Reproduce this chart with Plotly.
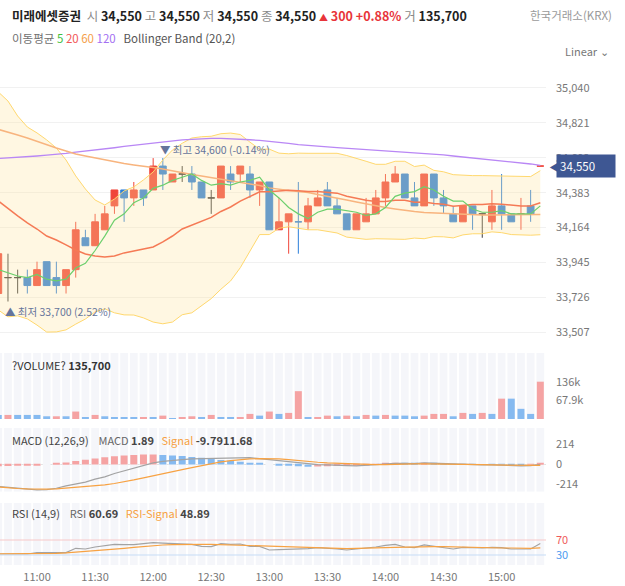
import pandas as pd
import plotly.graph_objects as go

# ---------------- data (5-minute bars, 10:40 .. 15:20) ----------------
times = pd.date_range("2025-01-02 10:40", periods=57, freq="5min")

opens = [33750, 33850, 33850, 33850, 33800, 33950, 33850, 33800, 33900, 34100,
         34050, 34150, 34300, 34400, 34350, 34400, 34400, 34550, 34450, 34500,
         34500, 34450, 34350, 34350, 34500, 34500, 34500, 34400, 34450, 34150,
         34200, 34200, 34200, 34300, 34400, 34300, 34250, 34150, 34200, 34250,
         34350, 34450, 34500, 34350, 34300, 34500, 34350, 34250, 34200, 34300,
         34250, 34200, 34300, 34250, 34250, 34300, 34550]
highs = [34000, 34000, 33900, 33900, 33950, 33950, 33950, 33900, 34200, 34150,
         34250, 34300, 34400, 34400, 34450, 34400, 34600, 34600, 34500, 34550,
         34550, 34450, 34400, 34550, 34550, 34550, 34550, 34450, 34450, 34350,
         34250, 34450, 34350, 34400, 34450, 34350, 34250, 34250, 34350, 34400,
         34500, 34550, 34500, 34450, 34500, 34500, 34400, 34300, 34300, 34300,
         34250, 34400, 34500, 34250, 34350, 34400, 34550]
lows = [33750, 33700, 33750, 33750, 33800, 33800, 33750, 33750, 33850, 34050,
        34050, 34150, 34250, 34200, 34300, 34300, 34400, 34400, 34450, 34450,
        34400, 34350, 34250, 34350, 34400, 34450, 34350, 34300, 34150, 34150,
        34000, 34000, 34150, 34300, 34300, 34250, 34150, 34150, 34200, 34250,
        34300, 34450, 34350, 34300, 34300, 34300, 34250, 34200, 34200, 34150,
        34100, 34150, 34150, 34200, 34150, 34200, 34550]
closes = [34000, 33850, 33850, 33800, 33900, 33800, 33800, 33900, 34150, 34050,
          34200, 34250, 34400, 34350, 34400, 34350, 34550, 34500, 34500, 34500,
          34450, 34350, 34350, 34550, 34450, 34550, 34400, 34450, 34150, 34200,
          34250, 34200, 34300, 34350, 34300, 34250, 34150, 34250, 34250, 34350,
          34450, 34500, 34350, 34300, 34500, 34350, 34300, 34200, 34300, 34250,
          34250, 34300, 34250, 34200, 34250, 34250, 34550]
# direction of flat (open == close) bars as shown by the chart
flat_bar_direction = {"13:15": -1, "15:10": 1, "15:20": 1}

ma5 = [33900, 33880, 33860, 33850, 33870, 33840, 33830, 33840, 33910, 33940,
       34020, 34110, 34210, 34250, 34320, 34350, 34410, 34430, 34460, 34480,
       34500, 34460, 34430, 34440, 34430, 34450, 34460, 34480, 34400, 34350,
       34290, 34250, 34220, 34260, 34280, 34280, 34270, 34260, 34240, 34250,
       34290, 34360, 34380, 34390, 34420, 34400, 34360, 34330, 34330, 34280,
       34260, 34260, 34270, 34250, 34250, 34250, 34300]
ma20 = [34331, 34281, 34237, 34193, 34155, 34111, 34086, 34055, 34023, 33998,
        33986, 33980, 33986, 34005, 34017, 34030, 34042, 34074, 34111, 34155,
        34178, 34203, 34228, 34265, 34293, 34330, 34360, 34388, 34388, 34395,
        34398, 34395, 34390, 34390, 34385, 34380, 34360, 34348, 34335, 34328,
        34328, 34335, 34335, 34323, 34325, 34315, 34310, 34298, 34305, 34308,
        34308, 34313, 34310, 34303, 34300, 34300, 34320]
ma60 = [34780, 34764, 34745, 34726, 34704, 34682, 34663, 34645, 34626, 34613,
        34601, 34588, 34579, 34566, 34557, 34551, 34541, 34532, 34519, 34507,
        34497, 34488, 34478, 34469, 34460, 34450, 34441, 34428, 34413, 34403,
        34397, 34391, 34384, 34372, 34359, 34350, 34337, 34325, 34312, 34300,
        34290, 34281, 34271, 34265, 34259, 34256, 34252, 34249, 34246, 34243,
        34243, 34243, 34243, 34243, 34243, 34243, 34246]
ma120 = [34598, 34601, 34605, 34609, 34613, 34618, 34622, 34629, 34637, 34643,
         34650, 34657, 34665, 34673, 34680, 34689, 34695, 34701, 34707, 34714,
         34718, 34722, 34724, 34724, 34722, 34720, 34715, 34711, 34706, 34698,
         34692, 34685, 34679, 34674, 34670, 34666, 34662, 34658, 34655, 34651,
         34647, 34643, 34638, 34634, 34629, 34624, 34620, 34613, 34607, 34601,
         34594, 34588, 34582, 34576, 34569, 34563, 34554]
bb_upper = [35015, 34958, 34864, 34795, 34758, 34714, 34663, 34588, 34488, 34406,
            34337, 34306, 34343, 34394, 34419, 34463, 34513, 34588, 34651, 34693,
            34726, 34734, 34737, 34753, 34757, 34748, 34700, 34656, 34656, 34631,
            34627, 34631, 34630, 34630, 34628, 34630, 34616, 34600, 34580, 34561,
            34561, 34580, 34580, 34547, 34556, 34523, 34514, 34496, 34492, 34490,
            34490, 34488, 34488, 34486, 34484, 34484, 34521]
bb_lower = [33647, 33604, 33610, 33591, 33552, 33508, 33509, 33522, 33558, 33590,
            33635, 33654, 33629, 33616, 33615, 33597, 33571, 33560, 33571, 33617,
            33629, 33671, 33718, 33777, 33829, 33912, 34020, 34120, 34120, 34159,
            34169, 34159, 34150, 34150, 34142, 34130, 34104, 34096, 34090, 34094,
            34094, 34090, 34090, 34098, 34094, 34107, 34106, 34099, 34118, 34125,
            34125, 34137, 34132, 34120, 34116, 34116, 34119]

volumes = [14800, 14800, 14800, 14800, 14800, 9900, 9900, 9900, 27100, 3700,
           14800, 9900, 7400, 6200, 6200, 6200, 6200, 12300, 2500, 6200,
           9900, 6200, 14800, 6200, 6200, 6200, 18500, 12300, 27100, 18500,
           22200, 101200, 6200, 6200, 12300, 9900, 12300, 9900, 14800, 12300,
           14800, 12300, 12300, 9900, 12300, 18500, 18500, 9900, 22200, 18500,
           22200, 18500, 74000, 74000, 37000, 18500, 135700]
volume_dir = list("DUDDDDUDUD" "UDDDDUDUDU" "UDUDDUUDUD" "UUDUUDUDUD" "UDDDUUUDUD" "UDUDDDU")

macd = [-235, -242, -253, -263, -270, -267, -253, -228, -207, -189,
        -157, -132, -97, -69, -44, -16, 16, 33, 44, 51,
        58, 61, 65, 68, 72, 75, 72, 61, 51, 37,
        26, 16, 5, -2, -5, -5, -12, -16, -9, 2,
        9, 12, 12, 9, 16, 12, 9, 2, 2, -2,
        -5, -5, -9, -12, -16, -12, 1.89]
macd_signal = [-239, -249, -256, -260, -263, -263, -260, -253, -246, -239,
               -228, -218, -203, -186, -165, -143, -119, -97, -76, -55,
               -34, -12, 9, 26, 40, 51, 58, 61, 61, 58,
               51, 40, 30, 23, 16, 12, 5, 2, -2, -2,
               -2, 2, 5, 5, 5, 5, 5, 5, 2, 2,
               -2, -5, -5, -9, -9, -9, -9.79]
macd_hist = [-20, -18, -15, -10, -4, 0, 8, 20, 35, 50,
             62, 75, 86, 95, 100, 104, 106, 100, 95, 88,
             80, 72, 60, 48, 38, 28, 18, 8, 0, -8,
             -14, -20, -24, -22, -20, -18, -16, -12, -6, 4,
             10, 12, 10, 8, 9, 8, 6, 3, 2, 1,
             0, -2, -3, -4, -6, -3, 11.68]

rsi = [32.7, 32.7, 32.7, 32.7, 36.3, 36.3, 34.5, 36.3, 47.8, 46.0,
       51.3, 54.0, 58.4, 57.5, 57.5, 60.2, 62.8, 61.9, 61.1, 61.1,
       58.4, 53.1, 52.2, 60.2, 58.4, 59.3, 53.1, 53.1, 43.3, 44.2,
       45.2, 45.2, 46.9, 49.6, 48.7, 46.0, 43.3, 46.0, 47.8, 51.3,
       55.8, 58.4, 51.3, 49.6, 56.7, 53.1, 49.6, 46.0, 50.4, 48.7,
       48.7, 50.4, 49.6, 46.0, 46.0, 46.0, 60.69]
rsi_signal = [32.7, 32.7, 32.7, 32.7, 32.7, 33.6, 34.5, 35.4, 37.2, 38.9,
              41.6, 43.3, 46.0, 47.8, 50.4, 53.1, 54.9, 56.7, 57.5, 58.4,
              58.4, 58.4, 58.4, 57.5, 57.5, 56.7, 56.7, 55.8, 54.0, 53.1,
              52.2, 51.3, 50.4, 49.6, 48.7, 47.8, 46.9, 47.8, 47.8, 48.7,
              49.6, 50.4, 51.3, 51.3, 52.2, 52.2, 52.2, 51.3, 50.4, 50.4,
              49.6, 49.6, 48.7, 48.7, 47.8, 47.8, 48.89]

price_ticks = [33507, 33726, 33945, 34164, 34383, 34602, 34821, 35040]
volume_ticks = [67850, 135700]
volume_ticktext = ["67.9k", "136k"]
macd_ticks = [-214, 0, 214]
macd_ticktext = ["-214", "0", "214"]
rsi_levels = [30, 70]

stock_name = "미래에셋증권"
exchange = "한국거래소(KRX)"

# ---------------- style / layout constants ----------------
FONT = "Noto Sans CJK KR, Noto Sans, sans-serif"
RED = "#f0453a"
BLUE = "#2b7fda"
DOJI = "#3b3b3b"
VOL_UP, VOL_DN = "#f5a3a3", "#86baf0"
STRIPE = "#f5f6fa"
W, H = 625, 586
XD = 546 / W
def dom(top_px, bot_px):
    return [1 - bot_px / H, 1 - top_px / H]
MAIN_RANGE = [33427, 35203]
VOL_RANGE = [0, 240000]
MACD_RANGE = [-290, 390]
RSI_RANGE = [3.3, 169.5]
X_RANGE = ["2025-01-02 10:40:53", "2025-01-02 15:22:56"]
BAR_MS = 5 * 60 * 1000

fig = go.Figure()

# Bollinger band
fig.add_trace(go.Scatter(x=times, y=bb_lower, mode="lines", line=dict(color="#ffd86e", width=1),
                         hoverinfo="skip", showlegend=False, xaxis="x", yaxis="y"))
fig.add_trace(go.Scatter(x=times, y=bb_upper, mode="lines", line=dict(color="#ffd86e", width=1),
                         fill="tonexty", fillcolor="rgba(255,230,160,0.30)",
                         hoverinfo="skip", showlegend=False, xaxis="x", yaxis="y"))

# candles grouped by colour
groups = {"up": [], "down": [], "flat": []}
for i, t in enumerate(times):
    o, c = opens[i], closes[i]
    if c > o:
        groups["up"].append(i)
    elif c < o:
        groups["down"].append(i)
    else:
        d = flat_bar_direction.get(t.strftime("%H:%M"), 0)
        groups["up" if d > 0 else "down" if d < 0 else "flat"].append(i)
for key, col in (("up", RED), ("down", BLUE), ("flat", DOJI)):
    idx = groups[key]
    style = dict(line=dict(color=col, width=1), fillcolor=col)
    fig.add_trace(go.Candlestick(
        x=[times[i] for i in idx], open=[opens[i] for i in idx], high=[highs[i] for i in idx],
        low=[lows[i] for i in idx], close=[closes[i] for i in idx],
        increasing=style, decreasing=style, whiskerwidth=0,
        hoverinfo="skip", showlegend=False, xaxis="x", yaxis="y"))

# moving averages
for arr, col, wd in ((ma120, "#b987f5", 1.3), (ma60, "#f8b47e", 1.5),
                     (ma20, "#f57a55", 1.5), (ma5, "#6ccf6c", 1.2)):
    fig.add_trace(go.Scatter(x=times, y=arr, mode="lines", line=dict(color=col, width=wd),
                             hoverinfo="skip", showlegend=False, xaxis="x", yaxis="y"))

# background stripes of the lower panes
for ax, rng in (("y2", VOL_RANGE), ("y3", MACD_RANGE), ("y4", RSI_RANGE)):
    fig.add_trace(go.Bar(x=times, y=[rng[1] - rng[0]] * len(times), base=rng[0],
                         width=BAR_MS * 0.8, marker=dict(color=STRIPE, line=dict(width=0)),
                         hoverinfo="skip", showlegend=False, xaxis="x", yaxis=ax))

# volume
fig.add_trace(go.Bar(x=times, y=volumes, width=BAR_MS * 0.72,
                     marker=dict(color=[VOL_UP if d == "U" else VOL_DN for d in volume_dir],
                                 line=dict(width=0)),
                     hoverinfo="skip", showlegend=False, xaxis="x", yaxis="y2"))

# MACD
hist_cols = [VOL_UP if (i == 0 or macd_hist[i] >= macd_hist[i - 1]) else VOL_DN
             for i in range(len(macd_hist))]
fig.add_trace(go.Bar(x=times, y=macd_hist, width=BAR_MS * 0.72,
                     marker=dict(color=hist_cols, line=dict(width=0)),
                     hoverinfo="skip", showlegend=False, xaxis="x", yaxis="y3"))
fig.add_trace(go.Scatter(x=times, y=macd, mode="lines", line=dict(color="#a3a3a3", width=1.2),
                         hoverinfo="skip", showlegend=False, xaxis="x", yaxis="y3"))
fig.add_trace(go.Scatter(x=times, y=macd_signal, mode="lines", line=dict(color="#f7a243", width=1.2),
                         hoverinfo="skip", showlegend=False, xaxis="x", yaxis="y3"))

# RSI
fig.add_trace(go.Scatter(x=times, y=rsi, mode="lines", line=dict(color="#a3a3a3", width=1.2),
                         hoverinfo="skip", showlegend=False, xaxis="x", yaxis="y4"))
fig.add_trace(go.Scatter(x=times, y=rsi_signal, mode="lines", line=dict(color="#f7a243", width=1.2),
                         hoverinfo="skip", showlegend=False, xaxis="x", yaxis="y4"))
for lvl, col in zip(rsi_levels, ("#c6dcf6", "#f7c8c8")):
    fig.add_shape(type="line", xref="x domain", x0=0, x1=1, yref="y4", y0=lvl, y1=lvl,
                  line=dict(color=col, width=1))

tickfont = dict(size=11, color="#777777", family=FONT)
axis_common = dict(anchor="x", side="right", showline=False, ticks="", fixedrange=True,
                   tickfont=tickfont, ticklabelstandoff=9)
fig.update_layout(
    width=W, height=H, margin=dict(l=0, r=0, t=0, b=0),
    paper_bgcolor="white", plot_bgcolor="white", template="plotly_white",
    font=dict(family=FONT, color="#333333"),
    showlegend=False, hovermode=False, barmode="overlay", boxgap=0.3, boxgroupgap=0,
    xaxis=dict(domain=[0, XD], anchor="y4", type="date", range=X_RANGE,
               tickformat="%H:%M", dtick=30 * 60 * 1000, tick0="2025-01-02 11:00",
               showgrid=False, zeroline=False, showline=False, ticks="",
               tickfont=tickfont, ticklabelstandoff=4, rangeslider=dict(visible=False),
               fixedrange=True),
    yaxis=dict(domain=dom(62, 345), range=MAIN_RANGE, tickvals=price_ticks, tickformat=",d",
               showgrid=True, gridcolor="#f1f1f1", zeroline=False, **axis_common),
    yaxis2=dict(domain=dom(353, 419), range=VOL_RANGE, tickvals=volume_ticks,
                ticktext=volume_ticktext, showgrid=False, zeroline=False, **axis_common),
    yaxis3=dict(domain=dom(427.7, 491.7), range=MACD_RANGE, tickvals=macd_ticks,
                ticktext=macd_ticktext,
                showgrid=False, zeroline=True, zerolinecolor="#e2e2e2", zerolinewidth=1,
                **axis_common),
    yaxis4=dict(domain=dom(502.7, 565), range=RSI_RANGE, tickvals=rsi_levels,
                ticktext=["<span style='color:#4f9bef'>30</span>",
                          "<span style='color:#ef5b5b'>70</span>"],
                showgrid=False, zeroline=False, **axis_common),
)

# ---------------- texts ----------------
def py(px):
    return 1 - px / H

last = closes[-1]
chg = closes[-1] - closes[-2]
pct = chg / closes[-2] * 100
g = "<span style='color:#8a8a8a'>{}</span>"
header = (f"<b>{stock_name}</b>&nbsp;&nbsp;"
          f"{g.format('시')} <b>{opens[-1]:,}</b> {g.format('고')} <b>{highs[-1]:,}</b> "
          f"{g.format('저')} <b>{lows[-1]:,}</b> {g.format('종')} <b>{last:,}</b> "
          f"<span style='color:#e8353a'><span style='font-size:9px'>▲</span> <b>{chg:,} +{pct:.2f}%</b></span> "
          f"{g.format('거')} <b>{volumes[-1]:,}</b>")
fig.add_annotation(text=header, xref="paper", yref="paper", x=10 / W, y=py(15),
                   xanchor="left", yanchor="middle", showarrow=False,
                   font=dict(size=12.5, color="#222222", family=FONT))
fig.add_annotation(text=exchange, xref="paper", yref="paper", x=614 / W, y=py(15),
                   xanchor="right", yanchor="middle", showarrow=False,
                   font=dict(size=11.5, color="#9a9a9a", family=FONT))
legend_txt = ("<span style='color:#707070'>이동평균</span> "
              "<span style='color:#3fbf3f'>5</span> <span style='color:#f25555'>20</span> "
              "<span style='color:#f5a04a'>60</span> <span style='color:#a36ff2'>120</span>"
              "&nbsp;&nbsp; <span style='color:#555555'>Bollinger Band (20,2)</span>")
fig.add_annotation(text=legend_txt, xref="paper", yref="paper", x=10 / W, y=py(38),
                   xanchor="left", yanchor="middle", showarrow=False,
                   font=dict(size=11.5, family=FONT))
fig.add_annotation(text="Linear ⌄", xref="paper", yref="paper", x=611 / W, y=py(51),
                   xanchor="right", yanchor="middle", showarrow=False,
                   font=dict(size=11, color="#777777", family=FONT))

# highest / lowest markers
hi = max(highs)
hi_i = len(highs) - 1 - highs[::-1].index(hi)
lo = min(lows)
lo_i = len(lows) - 1 - lows[::-1].index(lo)
mark_font = dict(size=10.5, color="#66759b", family=FONT)
fig.add_annotation(text=f"▼ 최고 {hi:,} ({(last - hi) / hi * 100:.2f}%)", x=times[hi_i], y=hi,
                   xref="x", yref="y", xanchor="left", yanchor="bottom", xshift=-5, yshift=-1,
                   showarrow=False, font=mark_font)
fig.add_annotation(text=f"▲ 최저 {lo:,} ({(last - lo) / lo * 100:.2f}%)", x=times[lo_i], y=lo,
                   xref="x", yref="y", xanchor="left", yanchor="top", xshift=-5, yshift=0,
                   showarrow=False, font=mark_font)

# current price tag
NAVY = "#3e5793"
fig.add_annotation(text=f"{last:,}", xref="paper", yref="y", x=XD, y=last, xanchor="left",
                   yanchor="middle", xshift=10, showarrow=False, bgcolor=NAVY, borderpad=3,
                   font=dict(size=11.5, color="white", family=FONT), width=52, align="left")
fig.add_annotation(text="◀", xref="paper", yref="y", x=XD, y=last, xanchor="left",
                   yanchor="middle", xshift=1, showarrow=False,
                   font=dict(size=12, color=NAVY, family=FONT))

# pane titles
fig.add_annotation(text=f"?VOLUME? <b>{volumes[-1]:,}</b>", xref="paper", yref="paper",
                   x=10 / W, y=py(365), xanchor="left", yanchor="middle", showarrow=False,
                   font=dict(size=11, color="#333333", family=FONT))
fig.add_annotation(
    text=(f"MACD (12,26,9)&nbsp;&nbsp;&nbsp; <span style='color:#666'>MACD</span> <b>{macd[-1]:.2f}</b>"
          f"&nbsp;&nbsp; <span style='color:#f7a243'>Signal</span> "
          f"<b>{macd_signal[-1]:.2f}{macd_hist[-1]:.2f}</b>"),
    xref="paper", yref="paper", x=10 / W, y=py(440), xanchor="left", yanchor="middle",
    showarrow=False, font=dict(size=11, color="#444444", family=FONT))
fig.add_annotation(
    text=(f"RSI (14,9)&nbsp;&nbsp;&nbsp; <span style='color:#666'>RSI</span> <b>{rsi[-1]:.2f}</b>"
          f"&nbsp;&nbsp; <span style='color:#f7a243'>RSI-Signal</span> <b>{rsi_signal[-1]:.2f}</b>"),
    xref="paper", yref="paper", x=10 / W, y=py(513), xanchor="left", yanchor="middle",
    showarrow=False, font=dict(size=11, color="#444444", family=FONT))

fig.write_html("out.html", config={"displayModeBar": False},
               post_script="document.body.style.margin='0';"
                           "document.documentElement.style.overflow='hidden';")
